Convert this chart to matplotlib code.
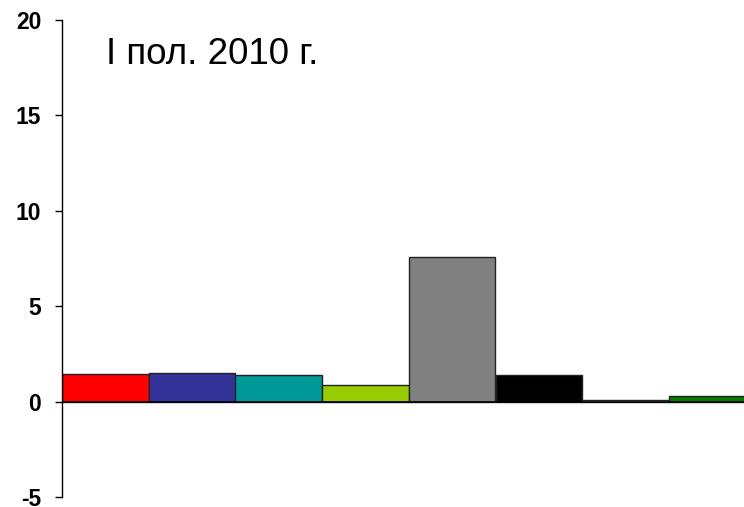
import numpy as np
import matplotlib
matplotlib.use("Agg")
import matplotlib.pyplot as plt

plt.rcParams['font.family'] = ['Liberation Sans', 'DejaVu Sans']

# values
values = [1.47, 1.48, 1.41, 0.87, 7.58, 1.38, 0.06, 0.28]
colors = ['#FF0000', '#333399', '#009999', '#99CC00',
          '#808080', '#000000', '#FFFFFF', '#008000']
yticks = [-5, 0, 5, 10, 15, 20]
title = 'I пол. 2010 г.'

fig = plt.figure(figsize=(7.44, 5.07), dpi=100)
ax = fig.add_axes([62/744, 1 - 497/507, 693.6/744, 477/507])

x = np.arange(len(values))
ax.bar(x, values, width=1.0, color=colors, edgecolor='#222222', linewidth=1.0)
ax.axhline(0, color='black', linewidth=1.2)

ax.set_xlim(-0.5, len(values) - 0.5)
ax.set_ylim(-5, 20)
ax.set_yticks(yticks)
ax.set_yticklabels([str(v) for v in yticks], fontsize=16.5, fontweight='bold')
ax.tick_params(axis='y', direction='out', length=5, width=1, pad=10)
ax.set_xticks([])

for s in ['top', 'right', 'bottom']:
    ax.spines[s].set_visible(False)
ax.spines['left'].set_linewidth(1)

ax.text(0.063, 0.908, title, transform=ax.transAxes, fontsize=26.5,
        va='baseline', ha='left')

fig.savefig('out.png', dpi=100)
